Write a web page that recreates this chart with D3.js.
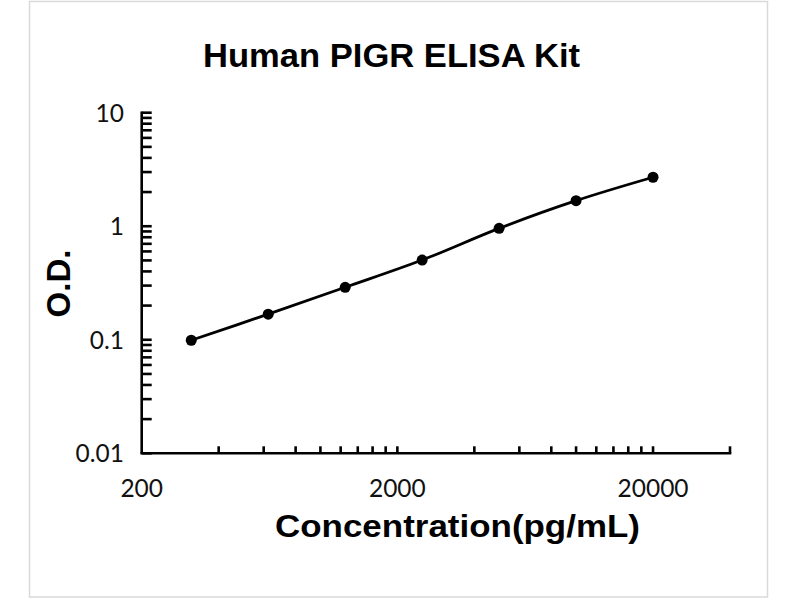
<!DOCTYPE html>
<html lang="en">
<head>
  <meta charset="UTF-8">
  <title>Human PIGR ELISA Kit</title>
  <style>
    body { margin: 0; padding: 0; background: #fff; }
    svg { display: block; }
    .axis-line, .tick { stroke: #000; stroke-width: 2.6px; fill: none; }
    .tick-label { font-family: 'Lato', 'Open Sans', sans-serif; font-size: 24.5px; fill: #111; }
    .title { font-family: 'Liberation Sans', Arial, sans-serif; font-weight: bold; fill: #000; }
    .curve { fill: none; stroke: #000; stroke-width: 2.8px; }
    .dot { fill: #000; }
  </style>
</head>
<body>
  <svg width="800" height="600"></svg>

  <script src="https://d3js.org/d3.v7.min.js"></script>
  <script>
    // standard curve readings
    const concentrations = [312.5, 625, 1250, 2500, 5000, 10000, 20000];
    const odValues = [0.099, 0.168, 0.29, 0.504, 0.958, 1.68, 2.70];

    const xTickLabels = [200, 2000, 20000];
    const yTickLabels = [10, 1, 0.1, 0.01];

    const svg = d3.select("svg");

    // outer frame
    svg.append("rect")
      .attr("x", 29.5).attr("y", 1.5)
      .attr("width", 738).attr("height", 595.5)
      .attr("fill", "#fff")
      .attr("stroke", "#d9d9d9")
      .attr("stroke-width", 1.5);

    const x = d3.scaleLog().domain([200, 40000]).range([141.7, 730]);
    const y = d3.scaleLog().domain([0.01, 10]).range([453.3, 112.7]);

    // y axis line + ticks (pointing inward)
    svg.append("line").attr("class", "axis-line")
      .attr("x1", x(200)).attr("x2", x(200))
      .attr("y1", y(10) - 1.3).attr("y2", y(0.01));

    svg.selectAll(".ytick")
      .data(y.ticks())
      .enter().append("line")
      .attr("class", "tick ytick")
      .attr("x1", x(200)).attr("x2", x(200) + 10)
      .attr("y1", d => y(d)).attr("y2", d => y(d));

    svg.selectAll(".ylabel")
      .data(yTickLabels)
      .enter().append("text")
      .attr("class", "tick-label ylabel")
      .attr("x", 124)
      .attr("y", d => y(d))
      .attr("dy", "0.36em")
      .attr("text-anchor", "end")
      .text(d => d);

    // x axis line + ticks (pointing up)
    svg.append("line").attr("class", "axis-line")
      .attr("x1", x(200) - 1.3).attr("x2", x(40000) + 1.3)
      .attr("y1", y(0.01)).attr("y2", y(0.01));

    const xTicks = [].concat(
      d3.range(2, 11).map(k => 200 * k),
      d3.range(2, 11).map(k => 2000 * k),
      [40000]
    );

    svg.selectAll(".xtick")
      .data(xTicks)
      .enter().append("line")
      .attr("class", "tick xtick")
      .attr("x1", d => x(d)).attr("x2", d => x(d))
      .attr("y1", y(0.01)).attr("y2", y(0.01) - 7);

    svg.selectAll(".xlabel")
      .data(xTickLabels)
      .enter().append("text")
      .attr("class", "tick-label xlabel")
      .attr("x", d => x(d))
      .attr("y", 497)
      .attr("text-anchor", "middle")
      .text(d => d);

    // smoothed curve + points
    const pts = concentrations.map((c, i) => [c, odValues[i]]);
    const line = d3.line()
      .x(d => x(d[0]))
      .y(d => y(d[1]))
      .curve(d3.curveCatmullRom.alpha(0.5));

    svg.append("path").attr("class", "curve").attr("d", line(pts));

    svg.selectAll(".dot")
      .data(pts)
      .enter().append("circle")
      .attr("class", "dot")
      .attr("cx", d => x(d[0]))
      .attr("cy", d => y(d[1]))
      .attr("r", 5.5);

    // titles
    svg.append("text").attr("class", "title")
      .attr("x", 391.5).attr("y", 67)
      .attr("text-anchor", "middle")
      .attr("font-size", 33)
      .attr("textLength", 377)
      .attr("lengthAdjust", "spacingAndGlyphs")
      .text("Human PIGR ELISA Kit");

    svg.append("text").attr("class", "title")
      .attr("x", 457.5).attr("y", 537)
      .attr("text-anchor", "middle")
      .attr("font-size", 31)
      .attr("textLength", 365)
      .attr("lengthAdjust", "spacingAndGlyphs")
      .text("Concentration(pg/mL)");

    svg.append("text").attr("class", "title")
      .attr("transform", "translate(70,283.5) rotate(-90)")
      .attr("text-anchor", "middle")
      .attr("font-size", 33)
      .text("O.D.");
  </script>
</body>
</html>
